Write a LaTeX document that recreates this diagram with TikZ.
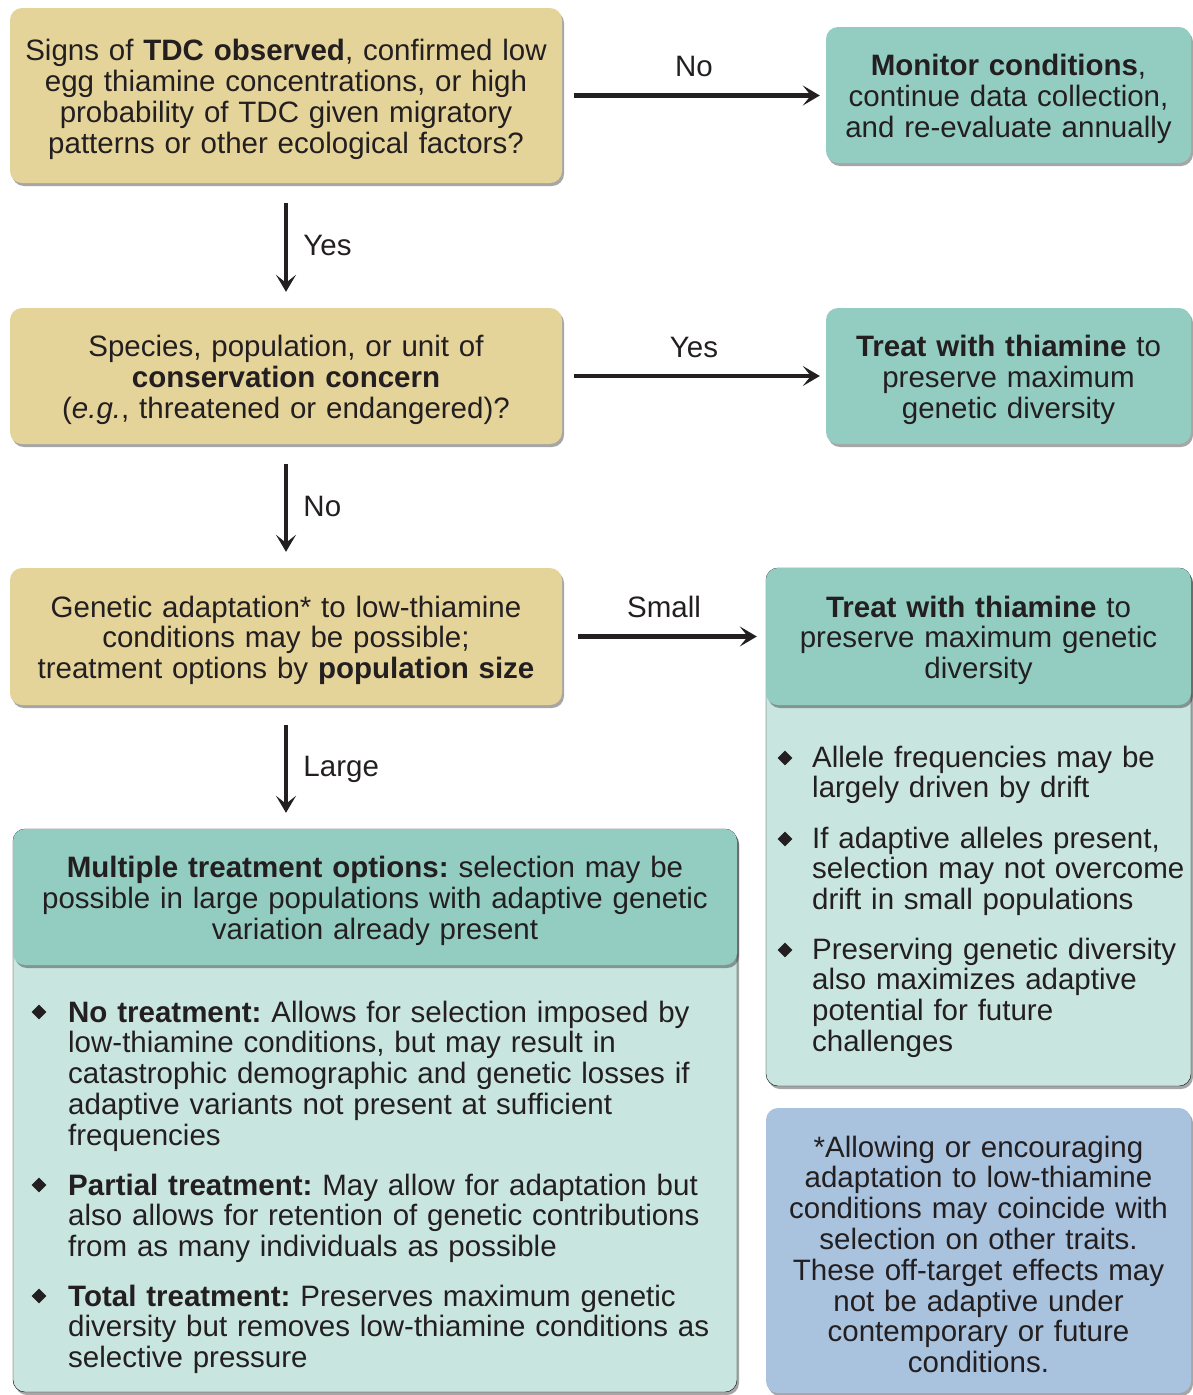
\documentclass[tikz,border=0pt]{standalone}
\usepackage{fontspec}
\setmainfont{Liberation Sans}
\usetikzlibrary{arrows.meta,positioning,shadows,shapes.geometric}
\frenchspacing

\definecolor{ink}{HTML}{231F20}
\definecolor{askfill}{HTML}{E5D49A}
\definecolor{actfill}{HTML}{93CDC1}
\definecolor{notefill}{HTML}{C9E5DF}
\definecolor{footfill}{HTML}{A9C3DF}

\tikzset{
  txt/.style={text=ink, font=\fontsize{29.5}{30.8}\selectfont},
  box/.style={txt, rounded corners=12pt, align=center, inner sep=0pt,
    execute at begin node={\rule{0pt}{29pt}},
    drop shadow={shadow xshift=2pt, shadow yshift=-3pt, fill=black, opacity=0.35}},
  askbox/.style={box, fill=askfill, minimum width=552pt, text width=540pt},
  actbox/.style={box, fill=actfill},
  bodybox/.style={rounded corners=12pt, fill=notefill,
    drop shadow={shadow xshift=2pt, shadow yshift=-3pt, fill=black, opacity=0.35}},
  flow/.style={draw=ink, line width=4.3pt, -{Stealth[length=17pt,width=20pt,inset=8pt]}},
  item/.style={txt, anchor=base west, align=left, inner sep=0pt},
  dot/.style={diamond, fill=ink, inner sep=0pt, minimum size=15pt}
}

\begin{document}
\begin{tikzpicture}[x=1pt,y=1pt]

  \useasboundingbox (0,0) rectangle (1193,-1395);

%%%%%%%%%%%%%%%%%%%%%%%%%%%%%%%%%%%%%%%%%%
  % Bodies behind the two headers
  \draw[bodybox] (766,-568) rectangle (1191,-1086);
  \draw[bodybox] (13,-829) rectangle (737,-1392);

%%%%%%%%%%%%%%%%%%%%%%%%%%%%%%%%%%%%%%%%%%
  % Questions
  \node[askbox, minimum height=175pt] (signs) at (286,-95.5)
    {Signs of \textbf{TDC observed}, confirmed low\\ egg thiamine concentrations, or high\\
     probability of TDC given migratory\\ patterns or other ecological factors?};
  \node[askbox, minimum height=136pt] (concern) at (286,-376)
    {Species, population, or unit of\\ \textbf{conservation concern}\\
     (\textit{e.g.}, threatened or endangered)?};
  \node[askbox, minimum height=137pt] (adapt) at (286,-636.5)
    {Genetic adaptation* to low-thiamine\\ conditions may be possible;\\
     treatment options by \textbf{population size}};

  % Actions
  \node[actbox, minimum width=365pt, minimum height=136pt, text width=355pt] (monitor) at (1008.5,-95)
    {\textbf{Monitor conditions},\\ continue data collection,\\ and re-evaluate annually};
  \node[actbox, minimum width=365pt, minimum height=136pt, text width=355pt] (treatA) at (1008.5,-376)
    {\textbf{Treat with thiamine} to\\ preserve maximum\\ genetic diversity};
  \node[actbox, minimum width=425pt, minimum height=137pt, text width=415pt] (treatB) at (978.5,-636.5)
    {\textbf{Treat with thiamine} to\\ preserve maximum genetic\\ diversity};
  \node[actbox, minimum width=724pt, minimum height=136pt, text width=710pt] (multi) at (375,-897)
    {\textbf{Multiple treatment options:} selection may be\\
     possible in large populations with adaptive genetic\\ variation already present};

  % Footnote
  \node[box, fill=footfill, minimum width=425pt, minimum height=285pt, text width=415pt] (foot) at (978.5,-1250.5)
    {*Allowing or encouraging\\ adaptation to low-thiamine\\ conditions may coincide with\\
     selection on other traits.\\ These off-target effects may\\ not be adaptive under\\
     contemporary or future\\ conditions.};

%%%%%%%%%%%%%%%%%%%%%%%%%%%%%%%%%%%%%%%%%%
  % Arrows
  \draw[flow, shorten <=12pt, shorten >=6pt] (signs.east) -- (signs.east -| monitor.west)
    node[txt, midway, above=13pt] {No};
  \draw[flow, shorten <=20pt, shorten >=16pt] (signs.south) -- (concern.north)
    node[txt, midway, right=12pt] {Yes};
  \draw[flow, shorten <=12pt, shorten >=6pt] (concern.east) -- (concern.east -| treatA.west)
    node[txt, midway, above=13pt] {Yes};
  \draw[flow, shorten <=20pt, shorten >=16pt] (concern.south) -- (adapt.north)
    node[txt, midway, right=12pt] {No};
  \draw[flow, shorten <=16pt, shorten >=9pt] (adapt.east) -- (adapt.east -| treatB.west)
    node[txt, midway, above=13pt] {Small};
  \draw[flow, shorten <=20pt, shorten >=16pt] (adapt.south) -- (adapt.south |- multi.north)
    node[txt, midway, right=12pt, yshift=-2pt] {Large};

%%%%%%%%%%%%%%%%%%%%%%%%%%%%%%%%%%%%%%%%%%
  % Small population points
  \node[item, text width=400pt] (drift) at (812,-767)
    {Allele frequencies may be\\ largely driven by drift};
  \node[item, text width=400pt] (overcome) at (812,-848)
    {If adaptive alleles present,\\ selection may not overcome\\ drift in small populations};
  \node[item, text width=400pt] (potential) at (812,-959)
    {Preserving genetic diversity\\ also maximizes adaptive\\ potential for future\\ challenges};
  \foreach \p in {drift,overcome,potential}
    \node[dot] at ([shift={(-27pt,9pt)}]\p.base west) {};

  % Large population points
  \node[item, text width=660pt] (noTx) at (68,-1022)
    {\textbf{No treatment:} Allows for selection imposed by\\ low-thiamine conditions, but may result in\\
     catastrophic demographic and genetic losses if\\ adaptive variants not present at sufficient\\ frequencies};
  \node[item, text width=660pt] (partTx) at (68,-1195)
    {\textbf{Partial treatment:} May allow for adaptation but\\ also allows for retention of genetic contributions\\
     from as many individuals as possible};
  \node[item, text width=660pt] (totalTx) at (68,-1306)
    {\textbf{Total treatment:} Preserves maximum genetic\\ diversity but removes low-thiamine conditions as\\
     selective pressure};
  \foreach \p in {noTx,partTx,totalTx}
    \node[dot] at ([shift={(-29pt,10pt)}]\p.base west) {};

\end{tikzpicture}
\end{document}
